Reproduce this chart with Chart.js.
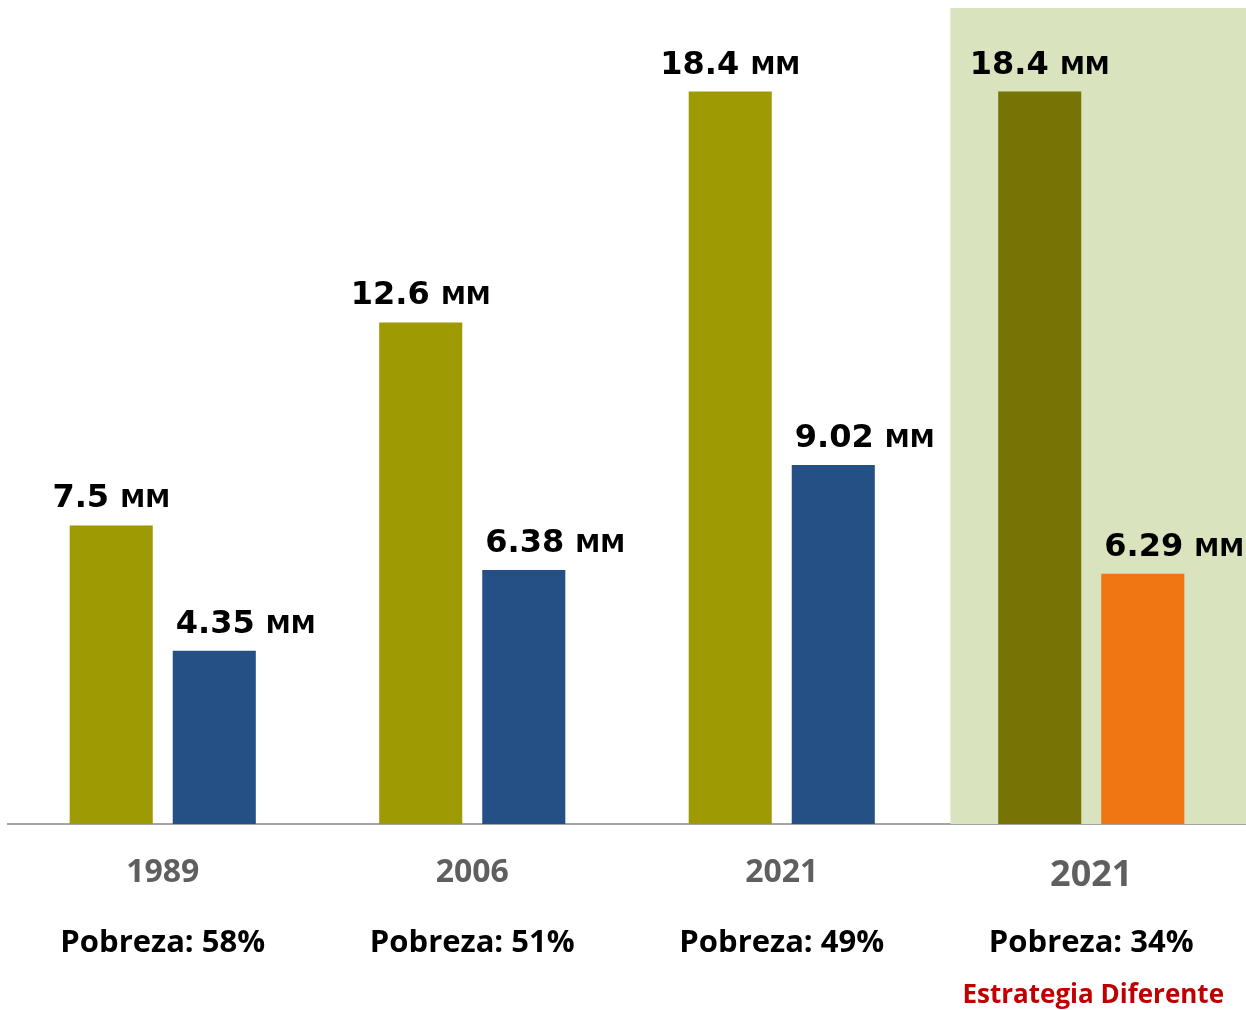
<!DOCTYPE html>
<html>
<head>
<meta charset="utf-8">
<script src="https://cdn.jsdelivr.net/npm/chart.js@4.4.1/dist/chart.umd.min.js"></script>
<style>
  html, body { margin: 0; padding: 0; background: #fff; }
  #wrap { width: 1246px; height: 1010px; position: relative; }
</style>
</head>
<body>
<div id="wrap"><canvas id="myChart"></canvas></div>
<script>
const years = ['1989', '2006', '2021', '2021'];
const pobreza = ['Pobreza: 58%', 'Pobreza: 51%', 'Pobreza: 49%', 'Pobreza: 34%'];
const total = [7.5, 12.6, 18.4, 18.4];
const pobres = [4.35, 6.38, 9.02, 6.29];
const totalLabels = ['7.5', '12.6', '18.4', '18.4'];
const pobresLabels = ['4.35', '6.38', '9.02', '6.29'];
const unit = 'MM';
const note = 'Estrategia Diferente';

const numFont = 'bold 32px "DejaVu Sans"';
const unitFont = 'bold 25px "DejaVu Sans"';

// green panel behind the last group
const panelPlugin = {
  id: 'panel',
  beforeDatasetsDraw(chart) {
    const { ctx, chartArea, scales } = chart;
    const x0 = scales.x.getPixelForValue(3) - scales.x.width / years.length * 0.455;
    ctx.save();
    ctx.fillStyle = '#d9e3be';
    ctx.fillRect(x0, chartArea.top, chartArea.right - x0, chartArea.bottom - chartArea.top);
    ctx.restore();
  }
};

function drawValue(ctx, num, x, y, align) {
  ctx.font = numFont;
  const w1 = ctx.measureText(num + ' ').width;
  ctx.font = unitFont;
  const w2 = ctx.measureText(unit).width;
  let start = align === 'center' ? x - (w1 + w2) / 2 : x;
  ctx.fillStyle = '#000';
  ctx.textBaseline = 'alphabetic';
  ctx.textAlign = 'left';
  ctx.font = numFont;
  ctx.fillText(num + ' ', start, y);
  ctx.font = unitFont;
  ctx.fillText(unit, start + w1, y);
}

const labelPlugin = {
  id: 'labels',
  afterDatasetsDraw(chart) {
    const { ctx, chartArea, scales } = chart;
    ctx.save();
    chart.getDatasetMeta(0).data.forEach((bar, i) => {
      drawValue(ctx, totalLabels[i], bar.x, bar.y - 18, 'center');
    });
    chart.getDatasetMeta(1).data.forEach((bar, i) => {
      drawValue(ctx, pobresLabels[i], bar.x - bar.width / 2 + 3, bar.y - 18, 'left');
    });
    // poverty lines under the years
    ctx.textAlign = 'center';
    ctx.textBaseline = 'middle';
    ctx.fillStyle = '#000';
    ctx.font = 'bold 31px "Open Sans"';
    pobreza.forEach((t, i) => {
      ctx.fillText(t, scales.x.getPixelForValue(i), chartArea.bottom + 119);
    });
    ctx.fillStyle = '#c00000';
    ctx.font = 'bold 26px "Open Sans"';
    ctx.fillText(note, scales.x.getPixelForValue(3) + 2, chartArea.bottom + 172);
    ctx.restore();
  }
};

new Chart(document.getElementById('myChart'), {
  type: 'bar',
  data: {
    labels: years,
    datasets: [{
      label: 'Población',
      data: total,
      backgroundColor: ['#9e9a04', '#9e9a04', '#9e9a04', '#787305'],
      barPercentage: 0.806,
      categoryPercentage: 0.666
    }, {
      label: 'Pobres',
      data: pobres,
      backgroundColor: ['#255086', '#255086', '#255086', '#f07513'],
      barPercentage: 0.806,
      categoryPercentage: 0.666
    }]
  },
  options: {
    responsive: true,
    maintainAspectRatio: false,
    animation: false,
    layout: {
      padding: { left: 8, right: 0, top: 8, bottom: 0 }
    },
    scales: {
      x: {
        grid: { display: false, drawTicks: false },
        border: { display: true, color: '#a6a6a6', width: 2 },
        ticks: {
          padding: 30,
          color: '#5f5f5f',
          font: (c) => ({ family: '"Open Sans"', weight: 'bold', size: c.index === 3 ? 36 : 32 })
        },
        afterFit(scale) { scale.height = 186; }
      },
      y: {
        display: false,
        min: 0,
        max: 20.5
      }
    },
    plugins: {
      legend: { display: false },
      tooltip: { enabled: false }
    }
  },
  plugins: [panelPlugin, labelPlugin]
});
</script>
</body>
</html>
